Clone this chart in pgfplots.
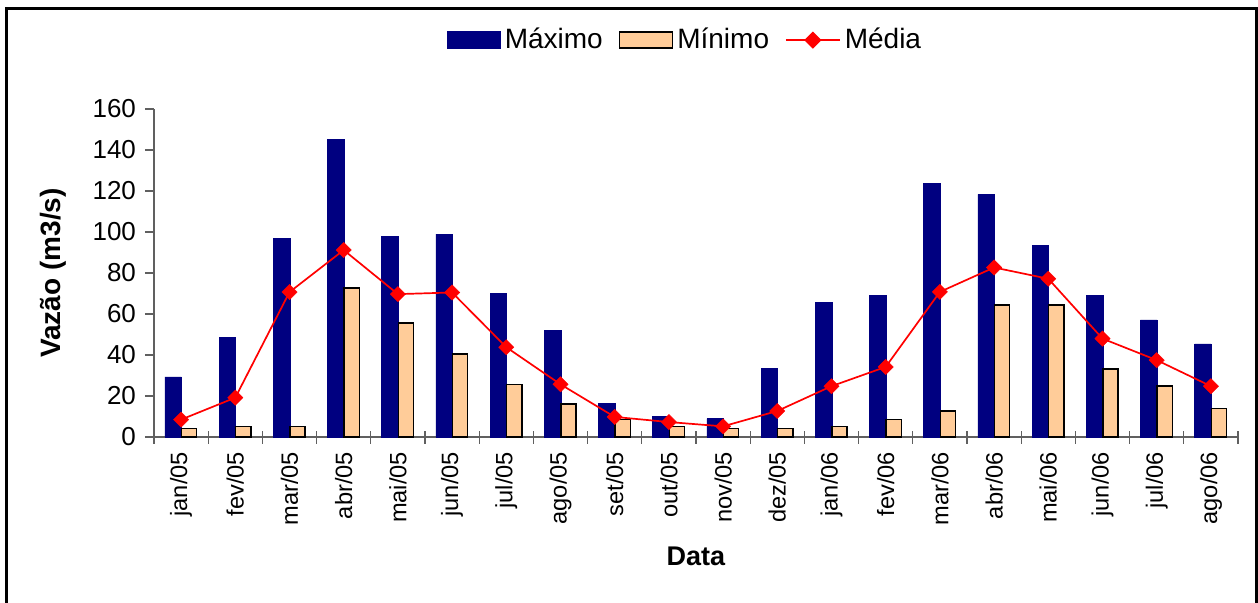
\documentclass[border=0pt]{standalone}
\usepackage{pgfplots}
\pgfplotsset{compat=1.18}
\usepackage{fontspec}
\setmainfont{Liberation Sans}
\definecolor{maxc}{HTML}{000080}
\definecolor{minc}{HTML}{FFCC99}
\definecolor{medc}{HTML}{FF0000}
\definecolor{axc}{HTML}{606060}
\begin{document}
\begin{tikzpicture}
\useasboundingbox (0,0) rectangle (629pt,-301pt);
\draw[line width=1.5pt] (3.25pt,-302pt) -- (3.25pt,-4.25pt) -- (628.2pt,-4.25pt) -- (628.2pt,-302pt);
\begin{axis}[
  at={(77pt,-218.5pt)}, anchor=south west,
  scale only axis, width=542pt, height=164pt,
  xmin=-0.5, xmax=19.5, ymin=0, ymax=160,
  axis x line*=bottom, axis y line*=left,
  axis line style={draw=axc, line width=0.6pt},
  tick style={draw=axc, line width=0.6pt},
  tick align=center, major tick length=6.5pt,
  xtick={-0.5,0.5,...,19.5}, xticklabels={},
  ytick=\empty,
  extra y ticks={0,20,...,160},
  extra y tick style={tick align=outside, major tick length=4.5pt},
  extra x ticks={0,...,19},
  extra x tick labels={jan/05,fev/05,mar/05,abr/05,mai/05,jun/05,jul/05,ago/05,set/05,out/05,nov/05,dez/05,jan/06,fev/06,mar/06,abr/06,mai/06,jun/06,jul/06,ago/06},
  extra x tick style={major tick length=0pt},
  /pgf/number format/assume math mode=true,
  yticklabel style={font=\fontsize{13}{15}\selectfont, xshift=-1pt},
  xticklabel style={font=\fontsize{11.8}{14}\selectfont, rotate=90, anchor=east, xshift=-4pt},
  ylabel={\textbf{Vazão (m3/s)}},
  ylabel style={font=\fontsize{14}{16}\selectfont, at={(axis description cs:-0.0932,0.5)}, anchor=center},
  xlabel={\textbf{Data}},
  xlabel style={font=\fontsize{13.5}{16}\selectfont, at={(axis description cs:0.5,-0.3628)}, anchor=center},
  legend columns=3,
  legend style={at={(axis description cs:0.491,1.21)}, anchor=center, draw=none, fill=none,
    font=\fontsize{14}{16}\selectfont, /tikz/every even column/.append style={column sep=6pt},
    inner sep=0pt},
]
\addplot[ybar, bar width=8.3pt, bar shift=-4pt, fill=maxc, draw=maxc, line width=0.2pt,
  legend image code/.code={\fill[maxc] (0pt,-4.25pt) rectangle (26.5pt,4.25pt);}]
coordinates {(0,29.3)(1,48.5)(2,96.9)(3,145.3)(4,97.9)(5,99.0)(6,70.2)(7,52.0)(8,16.3)(9,10.1)(10,9.0)(11,33.6)(12,65.8)(13,69.1)(14,123.8)(15,118.4)(16,93.6)(17,69.1)(18,57.2)(19,45.4)};
\addlegendentry{Máximo}
\addplot[ybar, bar width=7.6pt, bar shift=4pt, fill=minc, draw=black, line width=0.75pt,
  legend image code/.code={\draw[fill=minc, draw=black, line width=0.75pt] (0pt,-4pt) rectangle (26.5pt,4pt);}]
coordinates {(0,4.1)(1,5.2)(2,5.2)(3,72.8)(4,55.7)(5,40.6)(6,25.7)(7,16.0)(8,8.5)(9,5.2)(10,4.1)(11,4.1)(12,5.2)(13,8.5)(14,12.7)(15,64.3)(16,64.3)(17,33.2)(18,24.8)(19,13.8)};
\addlegendentry{Mínimo}
\addplot[color=medc, line width=0.85pt, mark=square*, mark size=2.7pt, mark options={rotate=45, fill=medc, draw=medc, line width=0.2pt},
  legend image code/.code={\draw[medc, line width=0.85pt] (0pt,0pt) -- (27pt,0pt); \fill[medc] (13.5pt,3.7pt) -- (17.2pt,0pt) -- (13.5pt,-3.7pt) -- (9.8pt,0pt) -- cycle;}]
coordinates {(0,8.5)(1,19.2)(2,70.7)(3,91.2)(4,69.7)(5,70.5)(6,43.8)(7,25.7)(8,9.8)(9,7.3)(10,5.2)(11,12.7)(12,24.8)(13,34.2)(14,70.8)(15,82.7)(16,77.2)(17,48.0)(18,37.5)(19,24.8)};
\addlegendentry{Média}
\end{axis}
\end{tikzpicture}
\end{document}
